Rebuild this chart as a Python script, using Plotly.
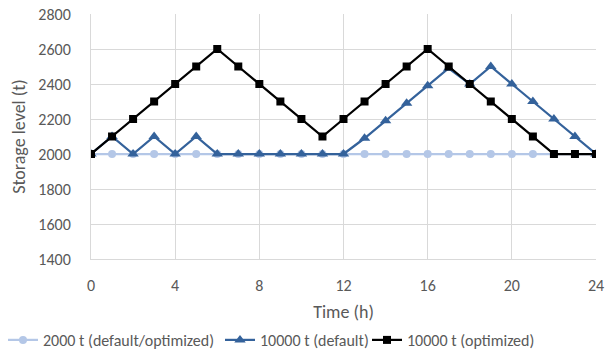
import plotly.graph_objects as go

hours = list(range(0, 25))
small_default = [2000] * 25
large_default = [2000, 2100, 2000, 2100, 2000, 2100, 2000, 2000, 2000, 2000, 2000, 2000, 2000,
                 2090, 2190, 2290, 2390, 2490, 2400, 2500, 2400, 2300, 2200, 2100, 2000]
large_optimized = [2000, 2100, 2200, 2300, 2400, 2500, 2600, 2500, 2400, 2300, 2200, 2100, 2200,
                   2300, 2400, 2500, 2600, 2500, 2400, 2300, 2200, 2100, 2000, 2000, 2000]
series_names = ["2000 t (default/optimized)", "10000 t (default)", "10000 t (optimized)"]
x_ticks = [0, 4, 8, 12, 16, 20, 24]
y_ticks = [1400, 1600, 1800, 2000, 2200, 2400, 2600, 2800]

font_family = "Carlito, Calibri, Lato, sans-serif"
text_color = "#595959"
grid_color = "#d9d9d9"

fig = go.Figure()
fig.add_trace(go.Scatter(
    x=hours, y=small_default, name=series_names[0], mode="lines+markers",
    line=dict(color="#b4c7e7", width=2.25),
    marker=dict(symbol="circle", size=8, color="#b4c7e7"),
    legend="legend",
))
fig.add_trace(go.Scatter(
    x=hours, y=large_default, name=series_names[1], mode="lines+markers",
    line=dict(color="#34629b", width=2.25),
    marker=dict(symbol="triangle-up", size=10, color="#34629b"),
    legend="legend2",
))
fig.add_trace(go.Scatter(
    x=hours, y=large_optimized, name=series_names[2], mode="lines+markers",
    line=dict(color="#000000", width=2.25),
    marker=dict(symbol="square", size=8, color="#000000"),
    legend="legend3",
))

# one legend box per series, laid out in a single row under the axis title
legend_style = dict(orientation="h", yref="container", y=15 / 355, yanchor="middle",
                    xref="container", xanchor="left",
                    font=dict(size=16, color=text_color), bgcolor="rgba(0,0,0,0)")

fig.update_layout(
    width=605, height=355,
    margin=dict(l=91, r=9, t=14, b=96, autoexpand=False),
    paper_bgcolor="white", plot_bgcolor="white",
    font=dict(family=font_family, size=16, color=text_color),
    showlegend=True,
    legend=dict(legend_style, x=3 / 605),
    legend2=dict(legend_style, x=220 / 605),
    legend3=dict(legend_style, x=367 / 605),
)
fig.update_xaxes(
    range=[0, 24], tickvals=x_ticks, ticktext=[str(v) for v in x_ticks],
    showgrid=True, gridcolor=grid_color, gridwidth=1,
    showline=True, linecolor=grid_color, linewidth=1, zeroline=False,
    ticks="", ticklabelstandoff=12,
    title=dict(text="Time (h)", font=dict(size=18, color=text_color), standoff=12),
)
fig.update_yaxes(
    range=[1400, 2800], tickvals=y_ticks,
    showgrid=True, gridcolor=grid_color, gridwidth=1,
    showline=True, linecolor=grid_color, linewidth=1, zeroline=False,
    ticks="", ticklabelstandoff=16,
    title=dict(text="Storage level (t)", font=dict(size=18, color=text_color), standoff=8),
)

fig.write_html("out.html")
